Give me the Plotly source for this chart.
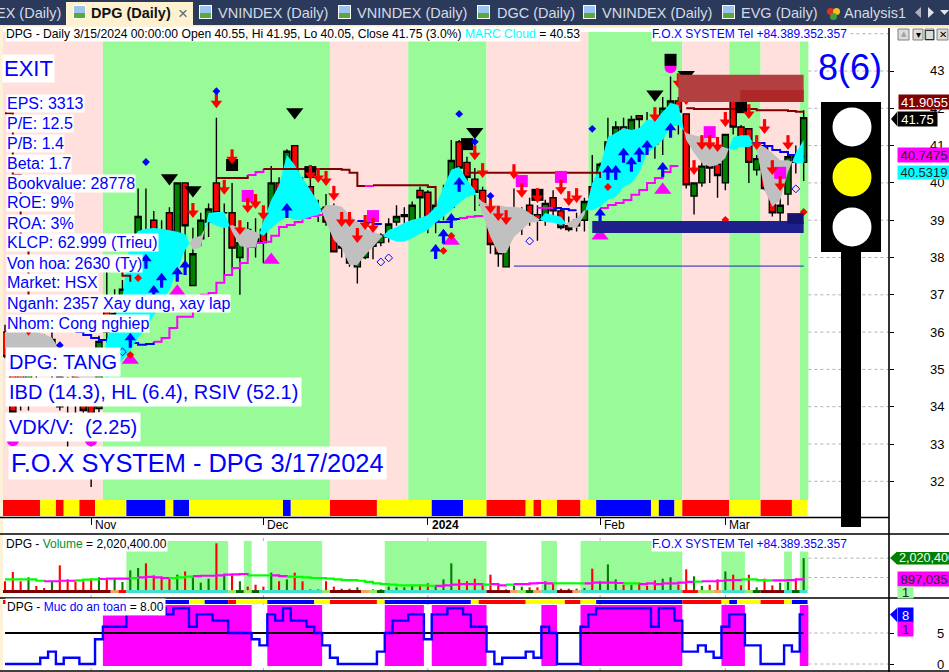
import plotly.graph_objects as go

W, H = 949, 672
# ---------- data ----------
opens = [36.0,35.65,34.85,34.1,35.85,35.65,34.95,34.8,34.6,35.0,34.8,34.7,33.95,36.75,36.05,36.05,36.35,38.65,38.7,39.0,38.5,39.2,38.35,40.0,37.25,38.5,38.95,40.0,39.2,39.2,38.0,38.75,38.5,38.75,39.0,40.0,39.95,41.0,39.9,39.9,39.3,39.35,39.25,38.25,38.65,37.75,38.0,38.3,38.4,38.55,38.95,39.1,38.95,39.8,39.75,38.95,39.45,39.35,41.1,40.55,40.1,39.8,39.0,38.6,37.75,38.85,39.0,39.4,39.15,39.0,39.6,39.25,38.85,38.85,39.0,39.9,39.6,40.7,40.9,41.5,41.35,41.8,41.5,41.2,41.5,42.0,42.2,41.85,39.65,40.0,40.5,40.5,40.0,42.3,41.5,41.45,40.35,41.0,39.85,39.2,39.7,40.7,40.55]
closes = [35.35,33.85,34.2,35.65,35.0,35.45,35.8,34.0,34.3,34.3,33.9,33.8,35.75,36.0,36.5,37.15,37.6,39.1,38.6,38.55,38.25,38.3,40.0,38.85,38.1,39.0,39.3,39.2,39.2,38.25,38.4,38.7,38.4,38.4,40.0,39.75,40.85,39.7,39.65,39.5,39.25,38.95,38.15,38.3,37.85,38.0,38.4,38.4,38.6,38.9,39.1,39.15,39.4,39.6,38.95,39.4,39.6,40.6,40.4,40.15,39.75,39.4,38.35,38.1,38.7,39.0,39.1,39.15,39.0,39.45,39.25,38.8,38.75,39.0,39.5,39.6,40.5,41.1,41.5,41.35,41.7,41.7,41.35,41.05,42.0,42.2,41.9,39.95,40.0,40.45,40.4,40.2,41.3,41.5,41.2,40.55,40.65,39.85,39.2,39.4,40.7,40.55,41.75]
highs = [36.2,35.9,35.8,36.0,36.05,35.95,36.05,34.95,34.8,35.25,35.0,34.85,35.9,37.65,37.15,37.4,37.95,39.85,39.85,39.25,39.0,39.35,40.0,40.0,38.8,39.2,39.45,41.75,39.45,40.0,38.65,38.95,39.05,39.0,40.45,40.15,40.9,41.0,40.15,40.25,39.55,39.7,39.45,38.6,38.65,38.75,38.55,38.65,38.65,39.05,39.4,39.35,39.5,39.9,39.8,39.55,39.95,41.15,41.15,40.7,40.4,39.9,39.55,38.75,38.7,39.85,39.35,39.6,39.4,39.55,39.8,39.35,39.1,39.2,39.6,40.75,40.55,41.75,41.65,41.75,41.8,41.8,41.9,41.4,42.3,42.85,42.3,41.85,40.0,40.65,40.65,40.95,41.3,42.45,41.55,41.45,40.75,41.0,40.0,39.6,40.7,41.0,41.95]
lows = [35.3,33.8,33.9,33.9,34.6,34.85,34.6,33.9,32.9,33.65,33.65,31.85,33.85,35.5,35.5,35.65,35.9,37.65,37.25,37.5,37.8,37.4,37.95,37.7,37.25,38.3,38.55,39.1,37.4,37.65,37.0,38.0,38.0,37.85,38.8,39.5,39.35,39.1,39.1,39.1,38.95,38.85,38.15,38.0,37.75,37.3,37.95,37.95,38.3,38.4,38.85,38.85,38.95,39.0,38.65,38.65,39.0,39.35,39.9,40.0,39.25,39.2,38.1,37.75,37.75,38.85,38.6,38.85,38.45,38.85,39.1,38.75,38.7,38.7,38.7,39.55,39.55,40.7,40.75,41.15,41.0,41.3,41.05,40.65,40.75,41.8,41.3,39.85,39.15,39.9,40.0,39.6,39.8,41.3,41.0,40.0,40.2,39.8,39.1,38.95,39.4,40.25,40.05]

cloud_fast = [35.58,35.55,35.5,35.5,35.5,35.55,35.55,35.12,34.93,34.83,34.72,34.67,34.93,35.79,36.38,36.92,38.47,38.71,38.77,38.79,38.77,38.74,38.69,38.63,38.2,38.28,39.19,39.22,39.22,38.69,38.31,38.26,38.28,38.98,39.54,39.94,40.75,40.48,40.13,39.81,39.49,38.95,38.47,38.26,37.8,37.8,38.07,38.28,38.52,38.74,38.82,38.93,39.01,39.06,39.14,39.36,39.89,40.35,40.43,40.08,39.81,39.14,38.55,38.12,38.12,38.55,38.74,38.93,38.95,39.19,39.14,39.09,38.82,38.79,39.14,40.0,40.43,41.23,41.34,41.47,41.42,41.47,41.69,41.69,41.9,42.14,42.09,41.15,40.8,40.53,40.43,40.48,40.67,41.23,41.28,41.28,40.88,39.81,39.36,39.54,40.29,40.8,41.15]
cloud_slow = [36.0,36.03,36.0,36.0,36.0,35.95,35.85,35.52,35.47,35.41,35.36,35.31,35.2,34.77,34.99,35.25,35.52,35.84,36.11,36.43,36.78,37.13,37.67,38.2,38.52,38.58,38.95,38.85,38.79,38.87,38.79,38.77,38.69,38.58,38.79,38.95,39.09,39.01,39.01,39.09,39.14,39.41,39.41,39.36,39.14,38.95,38.79,38.69,38.6,38.52,38.42,38.42,38.52,38.63,38.74,38.93,39.09,39.27,39.46,39.62,39.68,39.49,39.41,39.41,39.36,39.36,39.33,39.19,39.06,38.95,38.93,38.87,38.93,39.06,39.27,39.27,39.36,39.54,39.62,39.89,40.0,40.27,40.8,40.96,41.15,41.5,41.55,41.34,41.28,41.23,41.15,41.02,40.94,40.88,40.96,40.96,41.07,40.96,40.8,40.61,40.61,40.53,40.53]

stop_lower = {9:[36.0,35.92,35.84,35.79,35.79,35.76,35.74,35.71,35.66,35.68,35.74,35.84,36.11,36.41,36.41,36.68,37.0,37.05,37.32,37.53,37.72,37.85,38.28,38.39,38.42,38.58,38.82,38.87,38.95,39.06,39.11,39.14,39.14],
              45:[38.98,38.95,38.9,38.87],
              55:[38.95,38.95,39.03,39.06,39.09,39.11,39.14],
              68:[39.33,39.33,39.33,39.3,39.27,39.27],
              76:[39.33,39.41,39.46,39.54,39.68,39.81,40.0,40.13,40.29,40.45,40.45],
              94:[41.07,41.07,41.07,40.99,40.88,40.83,40.75,40.7,40.7475]}
lower_blue_runs = [(9,18),(45,48),(55,57),(70,73),(95,101)]
stop_upper = {0:[41.87,40.21,38.6,36.86,36.6,36.6,36.6,36.6],
              13:[37.72,37.67,37.51,37.35],
              27:[40.13,40.13,40.13,40.13,40.21,40.29,40.37,40.37,40.37,40.37,40.37,40.37,40.37,40.37,40.37,40.37,40.35,40.27,39.92,39.92,39.94,39.94,39.94,39.94,39.94,39.94,39.94,39.89,39.36],
              59:[40.27]*17+[40.13],
              87:[42.0,41.98,41.98,41.98,41.98,41.98,41.98,41.98,41.98,41.95,41.95,41.95,41.95,41.93,41.9055,41.9055]}
upper_magenta_runs = [(31,32),(46,46)]

arrow_down_idx = [3,11,27,28,24,30,31,32,33,29,39,40,41,42,43,44,45,46,47,60,61,65,66,62,63,64,68,71,72,73,83,86,87,88,89,90,91,92,95,96,97,98,99,100]
arrow_down_px  = [35.9,33.9,42.0,39.68,39.06,38.6,39.19,39.3,39.0,40.5,40.08,40.0,39.92,39.52,38.82,38.82,38.39,38.74,38.66,40.61,40.13,40.1,39.6,39.17,38.98,38.87,39.46,39.68,39.38,39.46,41.63,42.54,42.09,40.21,40.88,40.88,40.83,41.5,41.71,40.88,41.31,40.21,39.78,40.88]
arrow_up_idx = [18,23,36,20,22,19,16,55,56,57,58,76,77,78,79,80,81,82,84,85]
arrow_up_px  = [38.1,37.93,39.46,37.59,37.75,37.26,35.98,38.36,38.77,39.19,40.16,39.33,40.48,40.48,40.94,40.7,40.96,41.15,40.56,41.61]
tri_black_idx = [21,24,37,60,83,87]
tri_black_px  = [40.13,39.81,41.9,41.37,42.38,42.9]
tri_mag_idx = [34,16,22,57,76,84]
tri_mag_px  = [37.93,35.25,37.08,38.44,38.58,39.81]
sq_black_idx = [29,39,59,68,85,94]
sq_black_px  = [40.48,40.29,41.04,39.68,43.3,42.03]
sq_mag_idx = [31,47,66,71,90,99]
sq_mag_px  = [39.65,39.11,40.05,40.16,41.36,40.27]
dia_blue_idx = [27,18,58,60,62,75,7]
dia_blue_px  = [42.46,40.56,41.85,41.1,39.65,41.45,35.65]
dia_red_idx = [57,56,16,17,77,92,102]
dia_red_px  = [38.58,38.18,35.39,37.45,39.89,39.01,39.22]
dia_open_idx = [48,49,67,101,15]
dia_open_px  = [37.88,37.99,38.44,39.84,35.47]
circ_idx = [1,11,85]
circ_px  = [33.1,33.1,43.1]

zone_edges = [-0.3,12.5,41.5,51.5,61.5,74.5,86.5,92.5,96.5,101.5,102.6]
trend_runs = [('R',5),('Y',2),('R',1),('Y',2),('R',2),('Y',4),('B',5),('Y',1),('B',2),('Y',12),('B',1),('Y',5),('R',6),('Y',7),('B',4),('Y',3),('R',5),('Y',1),('R',1),('Y',2),('R',3),('Y',2),('B',7),('Y',1),('B',2),('Y',1),('R',6),('Y',4),('R',4),('Y',2)]
safety_runs = [('R',1),('N',19),('B',4),('Y',2),('B',3),('R',1),('Y',4),('B',6),('Y',2),('R',6),('Y',1),('B',11),('Y',1),('R',6),('Y',5),('R',2),('Y',2),('B',11),('R',5),('Y',1),('B',1),('Y',3),('R',3),('Y',1),('B',2)]
vol_state_runs = [('D',14),('O',1),('R',1),('T',13),('L',1),('G',1),('L',1),('G',1),('T',8),('L',1),('D',4),('O',1),('L',1),('G',1),('T',13),('D',3),('O',1),('L',1),('G',1),('O',1),('T',2),('D',2),('O',1),('T',13),('R',2),('L',2),('O',1),('T',3),('L',1),('G',1),('D',3),('T',1),('G',1),('T',1)]
volume = [.68,1.22,.68,.91,.41,.29,.71,1.6,.79,.64,.68,.83,.91,.79,.83,.64,1.31,1.45,1.72,1.02,.87,.83,1.06,1.25,.91,.6,.83,2.88,1.06,1.02,.68,.37,.48,.37,1.18,.68,.79,1.18,.68,.21,.21,.68,.37,.25,.25,.33,.17,.21,.21,.37,.33,.33,.48,.48,.56,.41,.79,1.72,.79,.68,.83,.48,1.06,.54,.21,.44,.37,.33,.33,.68,.56,.25,.25,.25,.29,1.41,.68,1.66,.79,.48,.48,.6,.41,.73,.83,.91,.48,1.37,.97,.41,.48,.79,1.25,1.06,.44,1.06,.33,.83,.44,.6,.64,.83,2.0204]
volume_ma = [.79,.79,.79,.79,.71,.68,.68,.71,.71,.73,.77,.79,.81,.83,.83,.83,.87,.91,.93,.91,.87,.87,.91,.95,.98,1.0,1.0,1.02,1.06,1.08,1.1,1.02,1.02,1.02,1.02,.98,.95,.93,.91,.87,.87,.83,.79,.75,.75,.71,.64,.56,.52,.48,.44,.44,.44,.44,.42,.41,.44,.48,.52,.52,.52,.48,.52,.44,.48,.52,.52,.56,.58,.56,.56,.56,.56,.56,.56,.6,.6,.6,.58,.56,.56,.52,.56,.52,.56,.56,.6,.64,.66,.68,.68,.71,.75,.75,.79,.79,.75,.73,.73,.73,.75,.79,.897]
ma_runs = [('G',5),('M',4),('G',3),('M',4),('G',1),('M',4),('G',3),('M',7),('G',3),('M',2),('G',19),('M',5),('M',1),('G',1),('M',2),('G',1),('M',5),('G',4),('M',5),('G',2),('M',7),('G',1),('M',5),('G',4),('M',5)]
vol_zones_tall = [(15.5,28.5),(30.5,31.5),(33.5,40.5),(48.5,61.5),(68.5,70.5),(73.5,86.5)]
vol_zones_short = [(91.5,94.5),(99.5,100.5),(101.5,102.6)]
safety = [0,0,0,0,0,1,2,0,1,1,0,0,4,6,6,6,8,8,8,8,9,8,9,9,6,8,8,7,7,5,5,5,4,3,8,7,9,7,7,6,5,3,1,0,0,0,0,0,2,5,7,7,8,8,4,8,8,9,9,8,6,6,2,0,1,1,1,2,1,6,5,0,0,0,6,8,9,9,9,9,9,9,9,6,9,9,7,2,2,3,2,1,6,8,8,3,3,0,0,0,3,2,8]
safety_zones = [(12.5,31.5),(33.5,40.5),(48.5,53.5),(54.5,61.5),(68.5,70.5),(73.5,86.5),(91.5,94.5),(101.5,102.6)]

price_ticks = [43,42,41,40,39,38,37,36,35,34,33,32]
month_idx = [11,33,54,76,92]
month_labels = ['Nov','Dec','<b>2024</b>','Feb','Mar']

N = len(closes)
for arr in (opens, highs, lows, cloud_fast, cloud_slow, volume, volume_ma, safety):
    assert len(arr) == N, len(arr)
xs = list(range(N))

def expand(runs):
    out = []
    for k, n in runs:
        out += [k] * n
    assert len(out) == N, len(out)
    return out

def fx(p): return p / W
def fy(p): return 1 - p / H

BLUE = '#0000ff'; RED = '#ff0000'; MAG = '#ff00ff'; CYAN = '#00ffff'; DKRED = '#800000'
STRIP = {'R': RED, 'Y': '#ffff00', 'B': BLUE}
VSTATE = {'D': DKRED, 'O': '#f4a460', 'R': RED, 'T': '#40e0d0', 'L': '#90ee60', 'G': '#006400'}
FONT = 'Liberation Sans'

traces = []
shapes = []
ann = []

# zones
for j in range(len(zone_edges) - 1):
    shapes.append(dict(type='rect', xref='x', yref='y', x0=zone_edges[j], x1=zone_edges[j + 1], y0=31.5, y1=43.0 + 39 / 37.3,
                       fillcolor='#ffe0dc' if j % 2 == 0 else '#98fb98', line_width=0, layer='below'))
for m in month_idx:
    for yr, a, b in (('y2', -0.29, 0.17), ('y2', 3.02, 3.42), ('y3', -1.13, -0.32), ('y3', 9.52, 10.65)):
        shapes.append(dict(type='line', xref='x', yref=yr, x0=m, x1=m, y0=a, y1=b, layer='below',
                           line=dict(color='#b0b0b0', width=1, dash='dot')))
for a, b in vol_zones_tall:
    shapes.append(dict(type='rect', xref='x', yref='y2', x0=a, x1=b, y0=0.17, y1=3.02, fillcolor='#98fb98', line_width=0, layer='below'))
for a, b in vol_zones_short:
    shapes.append(dict(type='rect', xref='x', yref='y2', x0=a, x1=b, y0=0.17, y1=2.44, fillcolor='#98fb98', line_width=0, layer='below'))
for a, b in safety_zones:
    shapes.append(dict(type='rect', xref='x', yref='y3', x0=a, x1=b, y0=-0.32, y1=9.52, fillcolor=MAG, line_width=0, layer='below'))

# dotted grid right of the bars
for t in price_ticks + [44]:
    shapes.append(dict(type='line', xref='x', yref='y', x0=102.6, x1=112.9, y0=t, y1=t, layer='below',
                       line=dict(color='#b0b0b0', width=1, dash='dot')))
for t in [2.0204, 0.897]:
    shapes.append(dict(type='line', xref='x', yref='y2', x0=102.6, x1=112.9, y0=t, y1=t, layer='below',
                       line=dict(color='#b0b0b0', width=1, dash='dot')))
for t in [5, 0]:
    shapes.append(dict(type='line', xref='x', yref='y3', x0=102.6, x1=112.9, y0=t, y1=t, layer='below',
                       line=dict(color='#b0b0b0', width=1, dash='dot')))

# stepped stop lines
def line_color_lower(i):
    return BLUE if any(a <= i <= b for a, b in lower_blue_runs) else MAG
def line_color_upper(i):
    return MAG if any(a <= i <= b for a, b in upper_magenta_runs) else DKRED

def stop_traces(stops, colorf, width=2):
    res = []
    for st, vals in stops.items():
        idx = list(range(st, st + len(vals)))
        k = 0
        while k < len(idx):
            c = colorf(idx[k]); e = k
            while e + 1 < len(idx) and colorf(idx[e + 1]) == c:
                e += 1
            end = min(e + 1, len(idx) - 1)
            res.append(go.Scatter(x=idx[k:end + 1], y=vals[k:end + 1], mode='lines',
                                  line=dict(color=c, width=width, shape='hv'), hoverinfo='skip'))
            k = e + 1
    return res

traces += stop_traces(stop_lower, line_color_lower)

# cloud
runs = []
cur_sign = cloud_fast[0] >= cloud_slow[0]
cur = [(0, cloud_fast[0], cloud_slow[0])]
for i in range(1, N):
    s = cloud_fast[i] >= cloud_slow[i]
    if s != cur_sign:
        d0 = cloud_fast[i - 1] - cloud_slow[i - 1]
        d1 = cloud_fast[i] - cloud_slow[i]
        t = d0 / (d0 - d1)
        v = cloud_fast[i - 1] + t * (cloud_fast[i] - cloud_fast[i - 1])
        cur.append((i - 1 + t, v, v))
        runs.append((cur_sign, cur))
        cur = [(i - 1 + t, v, v)]
        cur_sign = s
    cur.append((i, cloud_fast[i], cloud_slow[i]))
runs.append((cur_sign, cur))
for sign, pts in runs:
    px_ = [p[0] for p in pts] + [p[0] for p in reversed(pts)]
    py_ = [p[1] for p in pts] + [p[2] for p in reversed(pts)]
    traces.append(go.Scatter(x=px_, y=py_, mode='lines', fill='toself', line=dict(width=0),
                             fillcolor=CYAN if sign else '#c0c0c0', hoverinfo='skip'))

traces += stop_traces(stop_upper, line_color_upper)

# blue horizontal support
traces.append(go.Scatter(x=[65, 102], y=[37.77, 37.77], mode='lines', line=dict(color='#2020c0', width=1), hoverinfo='skip'))

# candles
traces.append(go.Candlestick(x=xs, open=opens, high=highs, low=lows, close=closes,
                             increasing=dict(fillcolor='#008000', line=dict(color='black', width=1.4)),
                             decreasing=dict(fillcolor=RED, line=dict(color='black', width=1.4)),
                             whiskerwidth=0, hoverinfo='skip'))

# one bar per run, so that a strip has no seams between bars
def strip_bars(runs_, palette, base, height, yaxis):
    cx, wd, col = [], [], []
    pos = 0
    for k, n in runs_:
        if k in palette:
            cx.append(pos - 0.5 + n / 2); wd.append(n); col.append(palette[k])
        pos += n
    return go.Bar(x=cx, y=[height] * len(cx), base=[base] * len(cx), width=wd, yaxis=yaxis,
                  marker=dict(color=col, line_width=0), hoverinfo='skip')

traces.append(strip_bars(trend_runs, STRIP, 31.07, 0.43, 'y'))

# markers
def mk(x, y, sym, size, color, **kw):
    m = dict(symbol=sym, size=size, color=color, line=dict(width=0))
    m.update(kw)
    return go.Scatter(x=x, y=y, mode='markers', marker=m, hoverinfo='skip')

traces.append(mk(circ_idx, circ_px, 'circle', 12, MAG))
traces.append(mk(sq_mag_idx, sq_mag_px, 'square', 12, MAG))
traces.append(mk(sq_black_idx, sq_black_px, 'square', 12, 'black'))
traces.append(mk(tri_mag_idx, tri_mag_px, 'triangle-up', 15, MAG))
traces.append(mk(tri_black_idx, tri_black_px, 'triangle-down', 15, 'black'))
def shafts(idx, tips, s, color):
    xx, yy = [], []
    for i, p in zip(idx, tips):
        xx += [i, i, None]; yy += [p + s * 0.18, p + s * 0.40, None]
    return go.Scatter(x=xx, y=yy, mode='lines', line=dict(width=3.2, color=color), hoverinfo='skip', connectgaps=False)
traces.append(shafts(arrow_down_idx, arrow_down_px, 1, RED))
traces.append(mk(arrow_down_idx, [p + 0.134 for p in arrow_down_px], 'triangle-down', 10, RED))
traces.append(shafts(arrow_up_idx, arrow_up_px, -1, BLUE))
traces.append(mk(arrow_up_idx, [p - 0.134 for p in arrow_up_px], 'triangle-up', 10, BLUE))
traces.append(mk(dia_blue_idx, dia_blue_px, 'diamond', 6, BLUE))
traces.append(mk(dia_red_idx, dia_red_px, 'diamond', 6, RED))
traces.append(mk(dia_open_idx, dia_open_px, 'diamond-open', 6, BLUE, line=dict(width=1, color=BLUE)))

# volume pane
traces.append(go.Bar(x=xs, y=volume, width=0.27, yaxis='y2',
                     marker=dict(color=['#008000' if c >= o else RED for o, c in zip(opens, closes)], line_width=0), hoverinfo='skip'))
traces.append(strip_bars(vol_state_runs, VSTATE, 0, 0.17, 'y2'))
ms = expand(ma_runs)
k = 0
while k < N:
    e = k
    while e + 1 < N and ms[e + 1] == ms[k]:
        e += 1
    end = min(e + 1, N - 1)
    traces.append(go.Scatter(x=xs[k:end + 1], y=volume_ma[k:end + 1], yaxis='y2', mode='lines',
                             line=dict(color='#00ff00' if ms[k] == 'G' else MAG, width=2.2, shape='hv'), hoverinfo='skip'))
    k = e + 1

# safety pane
traces.append(strip_bars(safety_runs, STRIP, 9.68, 0.65, 'y3'))
traces.append(go.Scatter(x=xs, y=[5] * N, yaxis='y3', mode='lines', line=dict(color='black', width=2), hoverinfo='skip'))
traces.append(go.Scatter(x=xs, y=safety, yaxis='y3', mode='lines', line=dict(color=BLUE, width=2.4, shape='hvh'), hoverinfo='skip'))

# boxes over the price pane
over = [
    (75, 102, 38.66, 38.98, '#20208c'),
    (99.9, 102, 38.9, 39.19, '#14146e'),
    (86, 102, 42.17, 42.9, '#b34040'),
    (93.9, 102, 42.17, 42.49, '#ae2828'),
]
for a, b, c, d, col in over:
    shapes.append(dict(type='rect', xref='x', yref='y', x0=a, x1=b, y0=c, y1=d, fillcolor=col, line_width=0, layer='above'))

# ---------- page furniture, pixel placed ----------
def prect(x0, y0, x1, y1, color, layer='above', kind='rect', lw=0, lc=None):
    shapes.append(dict(type=kind, xref='paper', yref='paper', x0=fx(x0), x1=fx(x1), y0=fy(y1), y1=fy(y0),
                       fillcolor=color, line=dict(width=lw, color=lc or color), layer=layer))

def pline(x0, y0, x1, y1, color='black', w=1.5):
    shapes.append(dict(type='line', xref='paper', yref='paper', x0=fx(x0), x1=fx(x1), y0=fy(y0), y1=fy(y1),
                       line=dict(color=color, width=w), layer='above'))

def ptri(pts, color):
    d = 'M ' + ' L '.join(f'{fx(a):.5f} {fy(b):.5f}' for a, b in pts) + ' Z'
    shapes.append(dict(type='path', xref='paper', yref='paper', path=d, fillcolor=color, line_width=0, layer='above'))

def label(x, y, text, size=16, color=BLUE, bg='white', anchor='left', font=FONT, pad=0, **kw):
    ann.append(dict(xref='paper', yref='paper', x=fx(x), y=fy(y), text=text, showarrow=False, xanchor=anchor,
                    yanchor='middle', font=dict(family=font, size=size, color=color), bgcolor=bg, borderpad=pad, **kw))

# tab bar
prect(0, 0, 949, 25, '#2b3a5a')
prect(0, 25, 949, 27.5, '#fde8b8')
prect(0, 25, 3, 672, '#fdf2d8')
prect(66, 2, 193, 26, '#fdf1d0')
def icon(x):
    prect(x, 5, x + 13, 19, '#ffffff')
    prect(x + 1, 6, x + 12, 18, '#9cc4ec')
    prect(x + 1, 13, x + 12, 18, '#5aa83a')
for x in (73, 199, 338, 477, 583, 722):
    icon(x)
for a, b, c in ((827, 8, '#e03020'), (833, 8, '#f0c020'), (830, 13, '#40a040')):
    prect(a, b, a + 7, b + 7, c, kind='circle')
TAB = '#d5dae6'
TABSZ = 14.5
label(62, 13, 'EX (Daily)', TABSZ, TAB, 'rgba(0,0,0,0)', 'right')
label(90, 13, '<b>DPG (Daily)</b>', TABSZ, '#111111', 'rgba(0,0,0,0)')
label(183, 13, '×', 17, '#666666', 'rgba(0,0,0,0)', 'center')
for x, t in ((217, 'VNINDEX (Daily)'), (356, 'VNINDEX (Daily)'), (496, 'DGC (Daily)'), (601, 'VNINDEX (Daily)'), (740, 'EVG (Daily)'), (843, 'Analysis1')):
    label(x, 13, t, TABSZ, TAB, 'rgba(0,0,0,0)')
ptri([(921, 7), (921, 18), (915, 12.5)], '#aab0c0')
ptri([(928, 7), (928, 18), (934, 12.5)], '#dfe3ec')
ptri([(940, 10), (949, 10), (944.5, 15)], '#dfe3ec')

# window buttons
for a, b in ((898, 909), (913, 923), (925, 934), (937, 948)):
    prect(a, 29, b, 40, '#dcdcdc', lw=1, lc='#808080')
label(903.5, 34.5, '▲', 7, '#a0a0a0', 'rgba(0,0,0,0)', 'center', 'DejaVu Sans')
label(918, 34.5, '▾', 10, 'black', 'rgba(0,0,0,0)', 'center', 'DejaVu Sans')
label(929.5, 34.5, '□', 12, 'black', 'rgba(0,0,0,0)', 'center', 'DejaVu Sans')
label(942.5, 34.5, '✕', 10, 'black', 'rgba(0,0,0,0)', 'center', 'DejaVu Sans')

# panes
pline(0, 517.5, 889, 517.5, w=1.4)
pline(0, 534, 949, 534, w=1.6)
pline(0, 598, 949, 598, w=1.6)
pline(0, 671, 949, 671, w=1.6)
pline(889, 28, 889, 672, w=1.6)

# traffic light
prect(841, 252, 861, 527, 'black')
prect(821, 102, 881, 252, 'black')
for cy, col in ((127, 'white'), (177, '#ffff00'), (227, 'white')):
    prect(832.5, cy - 19.5, 871.5, cy + 19.5, col, kind='circle')
label(849.5, 68, '8(6)', 36, BLUE, 'rgba(0,0,0,0)', 'center')

# titles
label(5, 34, 'DPG - Daily 3/15/2024 00:00:00 Open 40.55, Hi 41.95, Lo 40.05, Close 41.75 (3.0%) <span style="color:#00ffff">MARC Cloud</span> = 40.53', 12.15, 'black')
label(651, 34, 'F.O.X SYSTEM Tel +84.389.352.357', 12, BLUE)
label(651, 544, 'F.O.X SYSTEM Tel +84.389.352.357', 12, BLUE)
label(5, 544, 'DPG - <span style="color:#009030">Volume</span> = 2,020,400.00', 12, 'black')
label(5, 607, 'DPG - <span style="color:#0000ff">Muc do an toan</span> = 8.00', 12, 'black', pad=1)

# left text block
label(2, 69, 'EXIT', 22, pad=1)
info = ['EPS: 3313', 'P/E: 12.5', 'P/B: 1.4', 'Beta: 1.7', 'Bookvalue: 28778', 'ROE: 9%', 'ROA: 3%', 'KLCP: 62.999 (Trieu)',
        'Von hoa: 2630 (Ty)', 'Market: HSX', 'Nganh: 2357 Xay dung, xay lap', 'Nhom: Cong nghiep']
for k, t in enumerate(info):
    label(6, 103 + 20 * k, t, 16)
label(5, 362, 'DPG: TANG', 20, pad=3)
label(5, 392, 'IBD (14.3), HL (6.4), RSIV (52.1)', 20, pad=3)
label(5, 427, 'VDK/V:  (2.25)', 20, pad=3)
label(8, 463, 'F.O.X SYSTEM - DPG 3/17/2024', 25.4, pad=2)

# month labels
for m, t in zip(month_idx, month_labels):
    ann.append(dict(xref='x', yref='paper', x=m, y=fy(525), text=t, showarrow=False, xanchor='left', xshift=2, yanchor='middle',
                    font=dict(family=FONT, size=12, color='black')))

# price ticks
for t in price_ticks:
    ann.append(dict(xref='paper', yref='y', x=fx(946), y=t, text=str(t), showarrow=False, xanchor='right', yanchor='middle',
                    font=dict(family=FONT, size=13, color='black')))
for v, t in ((5, '5'), (0, '0')):
    ann.append(dict(xref='paper', yref='y3', x=fx(946), y=v, text=t, showarrow=False, xanchor='right', yanchor='middle',
                    font=dict(family=FONT, size=13, color='black')))

# value tags
def tag(x0, x1, yc, h, text, bg, col):
    ann.append(dict(xref='paper', yref='paper', x=fx(x0), y=fy(yc), text=text, showarrow=False, xanchor='left', yanchor='middle',
                    width=x1 - x0, height=h, align='center', font=dict(family=FONT, size=13, color=col), bgcolor=bg, borderpad=0))

tag(898, 949, 102.5, 14, '41.9055', DKRED, 'white')
ptri([(891, 119), (897, 112), (897, 126)], 'black')
tag(897, 936, 119, 14, '41.75', 'black', 'white')
tag(897, 949, 155, 14, '40.7475', MAG, '#222222')
tag(897, 949, 172, 13, '40.5319', CYAN, '#222222')
ptri([(890, 558), (897, 551.5), (897, 564.5)], '#008000')
prect(897, 552, 949, 564.5, '#008000')
label(898, 558, '2,020,400', 12.6, 'white', 'rgba(0,0,0,0)')
tag(897, 949, 579, 14, '897,035', MAG, '#222222')
tag(897, 912, 592, 11, '1', '#98fb98', '#222222')
ptri([(890, 614.5), (897, 608), (897, 622)], BLUE)
tag(897, 912, 615, 14, '8', BLUE, 'white')
tag(897, 912, 629, 14, '1', MAG, '#222222')

P_TOP, P_BOT = 43 + 47 / 37.3, 43 - 446 / 37.3
layout = dict(
    width=W, height=H, autosize=False, margin=dict(l=0, r=0, t=0, b=0, pad=0),
    paper_bgcolor='white', plot_bgcolor='rgba(0,0,0,0)', showlegend=False, barmode='overlay', dragmode=False,
    boxgap=0.22, boxgroupgap=0.0,
    xaxis=dict(domain=[0, 889 / W], range=[-5 / 7.83, 884 / 7.83], anchor='y', showgrid=False, zeroline=False, showline=False,
               tickmode='array', tickvals=month_idx, ticks='outside', ticklen=7, tickcolor='black', tickwidth=1,
               showticklabels=False, rangeslider=dict(visible=False), fixedrange=True),
    yaxis=dict(domain=[1 - 517 / H, 1 - 24 / H], range=[P_BOT, P_TOP], side='right', anchor='x', showgrid=False, zeroline=False,
               showline=False, tickmode='array', tickvals=price_ticks, ticks='outside', ticklen=4, tickcolor='black',
               showticklabels=False, fixedrange=True),
    yaxis2=dict(domain=[1 - 598 / H, 1 - 534 / H], range=[-0.29, 3.42], side='right', anchor='x', showgrid=False, zeroline=False,
                showline=False, showticklabels=False, ticks='', fixedrange=True),
    yaxis3=dict(domain=[1 - 671 / H, 1 - 598 / H], range=[-1.13, 10.65], side='right', anchor='x', showgrid=False, zeroline=False,
                showline=False, tickmode='array', tickvals=[5, 0], ticks='outside', ticklen=4, tickcolor='black',
                showticklabels=False, fixedrange=True),
    shapes=shapes, annotations=ann,
)
fig = go.Figure(data=traces, layout=layout)
fig.write_html("out.html", config=dict(displayModeBar=False),
               post_script="document.body.style.margin='0';document.body.style.overflow='hidden';")
